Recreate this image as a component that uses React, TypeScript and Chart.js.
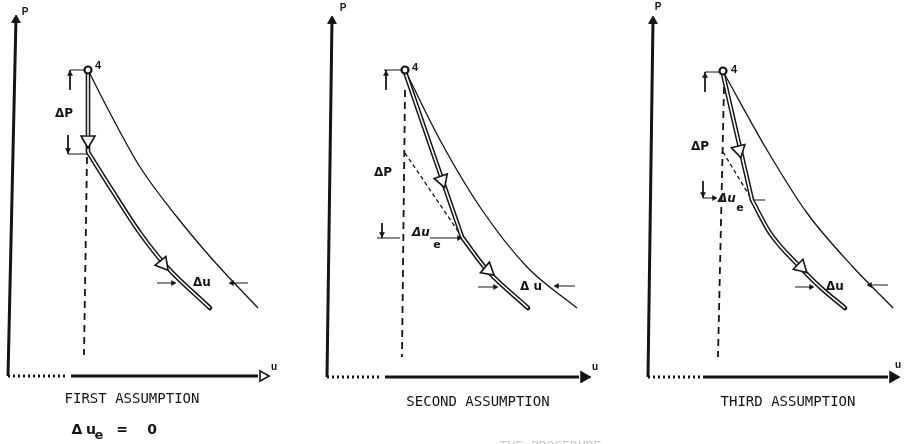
import { useEffect, useRef } from "react";
import { Chart, registerables } from "chart.js";

Chart.register(...registerables);

type Pt = [number, number];
type Arrow = [number, number, number]; // u, p, rotation (deg)
type Label = [number, number, string, string]; // u, p, text, font key

// ---------------- Panel 1 : FIRST ASSUMPTION ----------------
const P1_Y_AXIS: Pt[] = [[0, 0], [8, 358]];
const P1_X_AXIS_DOTTED: Pt[] = [[0, 0], [57, 0]];
const P1_X_AXIS: Pt[] = [[63, 0], [250, 0]];
const P1_STATE_4: Pt[] = [[80, 306]];
const P1_ISENTROPE: Pt[] = [[80, 306], [102, 263], [132, 209], [169, 159], [205, 116], [250, 68]];
const P1_PATH_A: Pt[] = [[80, 304], [80, 224]];
const P1_PATH_B: Pt[] = [[80, 224], [102, 189], [132, 143], [159, 109], [202, 68]];
const P1_DASH_LONG: Pt[] = [[79, 219], [76, 21]];
const P1_DASH_SHORT: Pt[] = [];
const P1_DIMS: Pt[][] = [
  [[62, 306], [80, 306]],
  [[62, 306], [62, 286]],
  [[60, 241], [60, 222]],
  [[60, 222], [80, 222]],
  [[149, 93], [167, 93]],
  [[240, 93], [222, 93]],
];
const P1_OPEN_ARROWS: Arrow[] = [[80, 236, 180], [155, 112, 141]];
const P1_SMALL_ARROWS: Arrow[] = [[62, 302, 0], [60, 226, 180], [165, 93, 90], [224, 93, 270]];
const P1_AXIS_ARROWS: Arrow[] = [[8, 356, 1], [255, 0, 90]];
const P1_LABELS: Label[] = [
  [17, 364, "P", "axis"],
  [90, 310, "4", "state"],
  [266, 9, "u", "axis"],
  [56, 262, "ΔP", "dim"],
  [194, 93, "Δu", "dim"],
  [124, -23, "FIRST ASSUMPTION", "title"],
  [69, -54, "Δ", "note"],
  [83, -54, "u", "note"],
  [91, -60, "e", "noteSub"],
  [114, -54, "=", "note"],
  [144, -54, "0", "note"],
];

// ---------------- Panel 2 : SECOND ASSUMPTION ----------------
const P2_Y_AXIS: Pt[] = [[0, 0], [5, 358]];
const P2_X_AXIS_DOTTED: Pt[] = [[0, 0], [53, 0]];
const P2_X_AXIS: Pt[] = [[58, 0], [252, 0]];
const P2_STATE_4: Pt[] = [[78, 307]];
const P2_ISENTROPE: Pt[] = [[78, 307], [113, 237], [153, 170], [200, 110], [250, 69]];
const P2_PATH_A: Pt[] = [[78, 305], [135, 140]];
const P2_PATH_B: Pt[] = [[135, 140], [160, 107], [201, 69]];
const P2_DASH_LONG: Pt[] = [[78, 287], [75, 20]];
const P2_DASH_SHORT: Pt[] = [[78, 224], [135, 140]];
const P2_DIMS: Pt[][] = [
  [[57, 307], [78, 307]],
  [[59, 307], [59, 287]],
  [[55, 154], [55, 139]],
  [[50, 139], [73, 139]],
  [[103, 139], [135, 139]],
  [[151, 90], [170, 90]],
  [[248, 91], [228, 91]],
];
const P2_OPEN_ARROWS: Arrow[] = [[115, 197, 161], [161, 107, 130]];
const P2_SMALL_ARROWS: Arrow[] = [[59, 303, 0], [55, 143, 180], [132, 139, 90], [168, 90, 90], [230, 91, 270]];
const P2_AXIS_ARROWS: Arrow[] = [[5, 356, 1], [257, 0, 90]];
const P2_LABELS: Label[] = [
  [16, 369, "P", "axis"],
  [88, 309, "4", "state"],
  [268, 10, "u", "axis"],
  [56, 204, "ΔP", "dim"],
  [94, 144, "Δu", "dimItalic"],
  [110, 132, "e", "dimSub"],
  [204, 90, "Δ u", "dim"],
  [151, -25, "SECOND ASSUMPTION", "title"],
];

// ---------------- Panel 3 : THIRD ASSUMPTION ----------------
const P3_Y_AXIS: Pt[] = [[0, 0], [5, 358]];
const P3_X_AXIS_DOTTED: Pt[] = [[0, 0], [52, 0]];
const P3_X_AXIS: Pt[] = [[55, 0], [240, 0]];
const P3_STATE_4: Pt[] = [[75, 306]];
const P3_ISENTROPE: Pt[] = [[77, 302], [119, 227], [159, 164], [205, 110], [245, 69]];
const P3_PATH_A: Pt[] = [[75, 303], [104, 177]];
const P3_PATH_B: Pt[] = [[104, 177], [122, 144], [152, 110], [172, 90], [197, 69]];
const P3_DASH_LONG: Pt[] = [[76, 290], [70, 20]];
const P3_DASH_SHORT: Pt[] = [[75, 225], [104, 177]];
const P3_DIMS: Pt[][] = [
  [[57, 305], [75, 305]],
  [[57, 305], [57, 285]],
  [[55, 196], [55, 179]],
  [[55, 179], [68, 179]],
  [[117, 177], [104, 177]],
  [[147, 90], [165, 90]],
  [[240, 92], [220, 92]],
];
const P3_OPEN_ARROWS: Arrow[] = [[91, 227, 167], [153, 110, 134]];
const P3_SMALL_ARROWS: Arrow[] = [[57, 301, 0], [55, 183, 180], [66, 179, 90], [163, 90, 90], [222, 92, 270]];
const P3_AXIS_ARROWS: Arrow[] = [[5, 356, 1], [245, 0, 90]];
const P3_LABELS: Label[] = [
  [10, 370, "P", "axis"],
  [86, 307, "4", "state"],
  [250, 12, "u", "axis"],
  [52, 230, "ΔP", "dim"],
  [79, 178, "Δu", "dimItalic"],
  [92, 169, "e", "dimSub"],
  [187, 90, "Δu", "dim"],
  [140, -25, "THIRD ASSUMPTION", "title"],
];

const FONTS: Record<string, string> = {
  axis: "bold 10px 'Liberation Sans', sans-serif",
  state: "bold 11px 'Liberation Sans', sans-serif",
  dim: "bold 12px 'DejaVu Sans', sans-serif",
  dimItalic: "italic bold 12px 'DejaVu Sans', sans-serif",
  dimSub: "bold 11px 'DejaVu Sans', sans-serif",
  title: "14px 'DejaVu Sans Mono', monospace",
  note: "bold 14px 'DejaVu Sans', sans-serif",
  noteSub: "bold 13px 'DejaVu Sans', sans-serif",
};

interface Panel {
  left: number;
  width: number;
  origin: Pt;
  yAxis: Pt[];
  xDotted: Pt[];
  xAxis: Pt[];
  state: Pt[];
  isentrope: Pt[];
  pathA: Pt[];
  pathB: Pt[];
  dashLong: Pt[];
  dashShort: Pt[];
  dims: Pt[][];
  openArrows: Arrow[];
  smallArrows: Arrow[];
  axisArrows: Arrow[];
  labels: Label[];
  openXArrow: boolean;
}

const PANELS: Panel[] = [
  {
    left: 0, width: 300, origin: [8, 376],
    yAxis: P1_Y_AXIS, xDotted: P1_X_AXIS_DOTTED, xAxis: P1_X_AXIS, state: P1_STATE_4,
    isentrope: P1_ISENTROPE, pathA: P1_PATH_A, pathB: P1_PATH_B,
    dashLong: P1_DASH_LONG, dashShort: P1_DASH_SHORT, dims: P1_DIMS,
    openArrows: P1_OPEN_ARROWS, smallArrows: P1_SMALL_ARROWS, axisArrows: P1_AXIS_ARROWS,
    labels: P1_LABELS, openXArrow: true,
  },
  {
    left: 300, width: 300, origin: [327, 377],
    yAxis: P2_Y_AXIS, xDotted: P2_X_AXIS_DOTTED, xAxis: P2_X_AXIS, state: P2_STATE_4,
    isentrope: P2_ISENTROPE, pathA: P2_PATH_A, pathB: P2_PATH_B,
    dashLong: P2_DASH_LONG, dashShort: P2_DASH_SHORT, dims: P2_DIMS,
    openArrows: P2_OPEN_ARROWS, smallArrows: P2_SMALL_ARROWS, axisArrows: P2_AXIS_ARROWS,
    labels: P2_LABELS, openXArrow: false,
  },
  {
    left: 600, width: 308, origin: [648, 377],
    yAxis: P3_Y_AXIS, xDotted: P3_X_AXIS_DOTTED, xAxis: P3_X_AXIS, state: P3_STATE_4,
    isentrope: P3_ISENTROPE, pathA: P3_PATH_A, pathB: P3_PATH_B,
    dashLong: P3_DASH_LONG, dashShort: P3_DASH_SHORT, dims: P3_DIMS,
    openArrows: P3_OPEN_ARROWS, smallArrows: P3_SMALL_ARROWS, axisArrows: P3_AXIS_ARROWS,
    labels: P3_LABELS, openXArrow: false,
  },
];

const INK = "#141414";
const toXY = (pts: Pt[]) => pts.map(([x, y]) => ({ x, y }));

function line(pts: Pt[], opts: Record<string, unknown>) {
  return {
    type: "scatter" as const,
    data: toXY(pts),
    showLine: true,
    pointRadius: 0,
    pointHoverRadius: 0,
    borderColor: INK,
    borderWidth: 1,
    fill: false,
    clip: false,
    order: 5,
    ...opts,
  };
}

function arrows(list: Arrow[], opts: Record<string, unknown>) {
  return {
    type: "scatter" as const,
    data: list.map(([x, y]) => ({ x, y })),
    showLine: false,
    pointStyle: "triangle",
    pointRotation: list.map((a) => a[2]),
    borderColor: INK,
    clip: false,
    order: 0,
    ...opts,
  };
}

const SMOOTH = { cubicInterpolationMode: "monotone" as const };

function buildDatasets(p: Panel) {
  const ds: any[] = [];
  ds.push(line(p.yAxis, { borderWidth: 3 }));
  ds.push(line(p.xDotted, { borderWidth: 3, borderDash: [2, 3] }));
  ds.push(line(p.xAxis, { borderWidth: 3 }));
  ds.push(line(p.isentrope, { borderWidth: 1.3, ...SMOOTH }));
  ds.push(line(p.dashLong, { borderWidth: 1.8, borderDash: [7, 5] }));
  if (p.dashShort.length) ds.push(line(p.dashShort, { borderWidth: 1.3, borderDash: [4, 3] }));
  for (const d of p.dims) ds.push(line(d, { borderWidth: 1 }));
  // double line: black outer, white core
  for (const seg of [p.pathA, p.pathB]) {
    ds.push(line(seg, { borderWidth: 4.6, ...SMOOTH, order: 3, borderCapStyle: "round", borderJoinStyle: "round" }));
    ds.push(line(seg, { borderWidth: 1.6, ...SMOOTH, order: 2, borderColor: "#ffffff", borderCapStyle: "butt" }));
  }
  ds.push(arrows(p.openArrows, { pointRadius: 8, pointHoverRadius: 8, backgroundColor: "#ffffff", borderWidth: 1.6 }));
  ds.push(arrows(p.smallArrows, { pointRadius: 3, pointHoverRadius: 3, backgroundColor: INK, borderWidth: 0.5 }));
  ds.push(arrows(p.axisArrows.slice(0, 1), { pointRadius: 5, pointHoverRadius: 5, backgroundColor: INK, borderWidth: 1 }));
  ds.push(arrows(p.axisArrows.slice(1), {
    pointRadius: 6, pointHoverRadius: 6,
    backgroundColor: p.openXArrow ? "#ffffff" : INK, borderWidth: 1.6,
  }));
  ds.push({
    type: "scatter" as const,
    data: toXY(p.state),
    pointStyle: "circle",
    pointRadius: 3.5,
    pointHoverRadius: 3.5,
    backgroundColor: "#ffffff",
    borderColor: INK,
    borderWidth: 2.2,
    clip: false,
    order: -1,
  });
  return ds;
}

function PanelChart({ panel }: { panel: Panel }) {
  const ref = useRef<HTMLCanvasElement | null>(null);
  useEffect(() => {
    if (!ref.current) return;
    const [ox, oy] = panel.origin;
    const textPlugin = {
      id: "diagramText",
      afterDatasetsDraw(chart: any) {
        const { ctx } = chart;
        const sx = chart.scales.x;
        const sy = chart.scales.y;
        ctx.save();
        ctx.fillStyle = INK;
        ctx.textAlign = "center";
        ctx.textBaseline = "middle";
        for (const [u, p, text, font] of panel.labels) {
          ctx.font = FONTS[font];
          ctx.fillText(text, sx.getPixelForValue(u), sy.getPixelForValue(p));
        }
        ctx.restore();
      },
    };
    const chart = new Chart(ref.current, {
      type: "scatter",
      data: { datasets: buildDatasets(panel) },
      options: {
        animation: false,
        responsive: false,
        devicePixelRatio: 1,
        events: [],
        layout: { padding: 0, autoPadding: false },
        plugins: { legend: { display: false }, tooltip: { enabled: false } },
        scales: {
          x: { type: "linear", display: false, min: panel.left - ox, max: panel.left + panel.width - ox },
          y: { type: "linear", display: false, min: oy - 444, max: oy },
        },
      } as any,
      plugins: [textPlugin],
    });
    return () => chart.destroy();
  }, [panel]);
  return (
    <canvas
      ref={ref}
      width={panel.width}
      height={444}
      style={{ position: "absolute", left: panel.left, top: 0, width: panel.width, height: 444, display: "block" }}
    />
  );
}

export default function App() {
  return (
    <div
      style={{
        position: "absolute",
        left: 0,
        top: 0,
        width: 908,
        height: 444,
        overflow: "hidden",
        background: "#ffffff",
      }}
    >
      {PANELS.map((p, i) => (
        <PanelChart key={i} panel={p} />
      ))}
      <div
        style={{
          position: "absolute",
          left: 437,
          top: 438,
          font: "13px 'DejaVu Sans Mono', monospace",
          color: "#c8c8c8",
          whiteSpace: "pre",
        }}
      >
        {"·   ·   THE PROCEDURE"}
      </div>
    </div>
  );
}
